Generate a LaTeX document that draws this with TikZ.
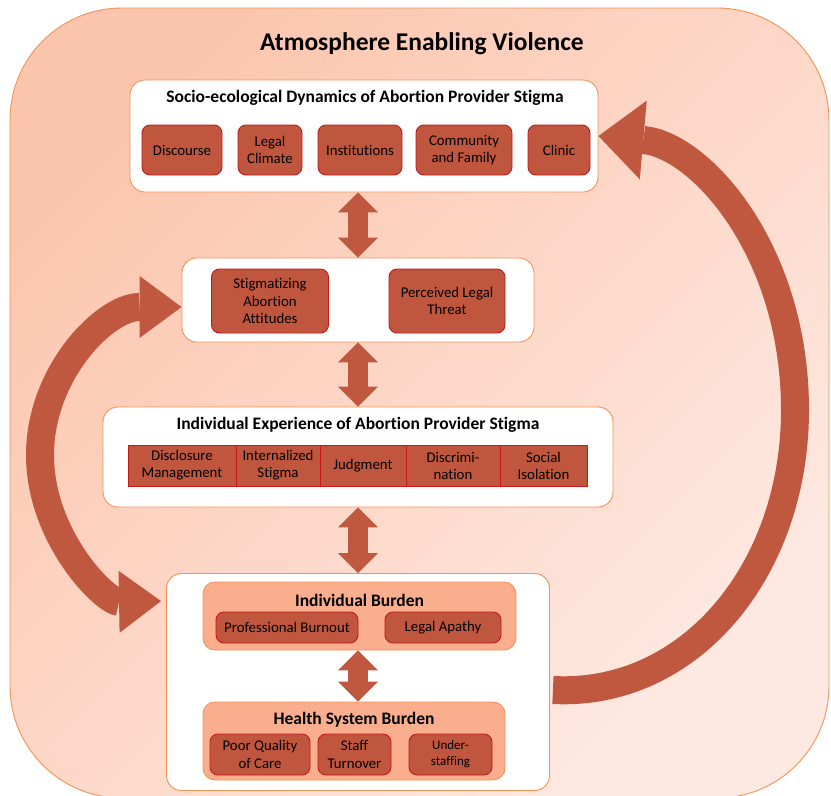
\documentclass[tikz,border=0pt]{standalone}
\usepackage{fontspec}
\setmainfont{Carlito}[Ligatures=NoCommon]
\usetikzlibrary{arrows.meta}
\definecolor{bgdark}{RGB}{252,198,174}
\definecolor{bglight}{RGB}{254,233,226}
\definecolor{edgeorange}{RGB}{242,146,86}
\definecolor{cellfill}{RGB}{192,86,62}
\definecolor{celledge}{RGB}{196,24,28}
\definecolor{panelfill}{RGB}{250,174,142}
\definecolor{arrowred}{RGB}{192,87,63}
\tikzset{
  stage/.style={rectangle, draw=edgeorange, fill=white, rounded corners=15, line width=0.9},
  panel/.style={rectangle, draw=edgeorange, fill=panelfill, rounded corners=12, line width=0.9},
  factor/.style={rectangle, draw=celledge, fill=cellfill, rounded corners=8, align=center,
                 inner sep=1, line width=0.9, font=\fontsize{14.8}{17.5}\selectfont},
  stripcell/.style={rectangle, draw=celledge, fill=cellfill, align=center, inner sep=1,
                 line width=0.9, minimum height=41, font=\fontsize{14.8}{17}\selectfont},
  stagetitle/.style={font=\fontsize{17.5}{20}\selectfont\bfseries},
  link/.style={draw=arrowred, line width=20,
               >={Triangle[length=20pt, width=40pt, line width=0pt]}, <->},
  sidearc/.style={draw=arrowred, line width=28,
               >={Triangle[length=42pt, width=62pt, line width=0pt]}, <->},
  backarc/.style={draw=arrowred, line width=28,
               >={Triangle[length=45pt, width=79pt, line width=0pt]}, ->}
}
\begin{document}
\begin{tikzpicture}[x=1pt, y=-1pt]
\clip (0,0) rectangle (831,796);
% background
\path[draw=edgeorange, line width=0.9, rounded corners=112, top color=bgdark,
      bottom color=bglight, shading angle=45] (10,8) rectangle (829,798);
\node[font=\fontsize{25.5}{28}\selectfont\bfseries] (atmos) at (422,44) {Atmosphere Enabling Violence};

% socio-ecological level
\node[stage, minimum width=468, minimum height=112] (socio) at (364,136) {};
\node[stagetitle] (sociotitle) at (365,98) {Socio-ecological Dynamics of Abortion Provider Stigma};
\node[factor, minimum width=80, minimum height=50] (discourse) at (182,150) {Discourse};
\node[factor, minimum width=64, minimum height=50] (legal) at (270,150) {Legal\\Climate};
\node[factor, minimum width=84, minimum height=50] (instit) at (360,150) {Institutions};
\node[factor, minimum width=96, minimum height=50] (community) at (464,150) {Community\\and Family};
\node[factor, minimum width=62, minimum height=50] (clinic) at (559,150) {Clinic};

% attitudes
\node[stage, minimum width=352, minimum height=84] (attitudes) at (358,300) {};
\node[factor, minimum width=117, minimum height=64] (stigmatt) at (270,301) {Stigmatizing\\Abortion\\Attitudes};
\node[factor, minimum width=116, minimum height=64] (threat) at (447,301) {Perceived Legal\\Threat};

% individual experience
\node[stage, minimum width=510, minimum height=100] (experience) at (358,457) {};
\node[stagetitle] (exptitle) at (358,425) {Individual Experience of Abortion Provider Stigma};
\node[stripcell, minimum width=108] (disclosure) at (182,465.5) {Disclosure\\Management};
\node[stripcell, minimum width=84] (internal) at (278,465.5) {Internalized\\Stigma};
\node[stripcell, minimum width=86] (judgment) at (363,465.5) {Judgment};
\node[stripcell, minimum width=94] (discrim) at (453,465.5) {Discrimi-\\nation};
\node[stripcell, minimum width=87] (isolation) at (543.5,465.5) {Social\\Isolation};

% burden
\node[stage, minimum width=383, minimum height=217] (burden) at (358,682) {};
\node[panel, minimum width=313, minimum height=68] (indiv) at (359.5,616) {};
\node[stagetitle] (indivtitle) at (359.5,600) {Individual Burden};
\node[factor, minimum width=142, minimum height=31] (burnout) at (287,627.5) {Professional Burnout};
\node[factor, minimum width=116, minimum height=31] (apathy) at (443,627.5) {Legal Apathy};
\node[panel, minimum width=302, minimum height=78] (health) at (354,741) {};
\node[stagetitle] (healthtitle) at (354,720) {Health System Burden};
\node[factor, minimum width=100, minimum height=41] (quality) at (260,754.5) {Poor Quality\\of Care};
\node[factor, minimum width=73, minimum height=41] (turnover) at (354.5,754.5) {Staff\\Turnover};
\node[factor, minimum width=83, minimum height=41, font=\fontsize{13}{16}\selectfont] (understaff) at (450.5,754.5) {Under-\\staffing};

% connectors
\draw[link] (socio.south -| attitudes.north) -- (attitudes.north);
\draw[link] (attitudes.south) -- (experience.north);
\draw[link] (experience.south) -- (burden.north);
\draw[link] (indiv.south -| burden.north) -- (health.north -| burden.north);

\coordinate (sidetip) at ([shift={(-5,28)}]burden.north west);
\draw[sidearc] ([shift={(0,7)}]attitudes.west) .. controls (105,307) and (40,373) .. (40,455)
   .. controls (40,537) and (105,602) .. (sidetip);
\coordinate (backtail) at ([shift={(3,8)}]burden.east);
\draw[backarc] (backtail) .. controls (690,697) and (795,570) .. (795,410)
   .. controls (795,250) and (700,145) .. (socio.east);
\end{tikzpicture}
\end{document}
